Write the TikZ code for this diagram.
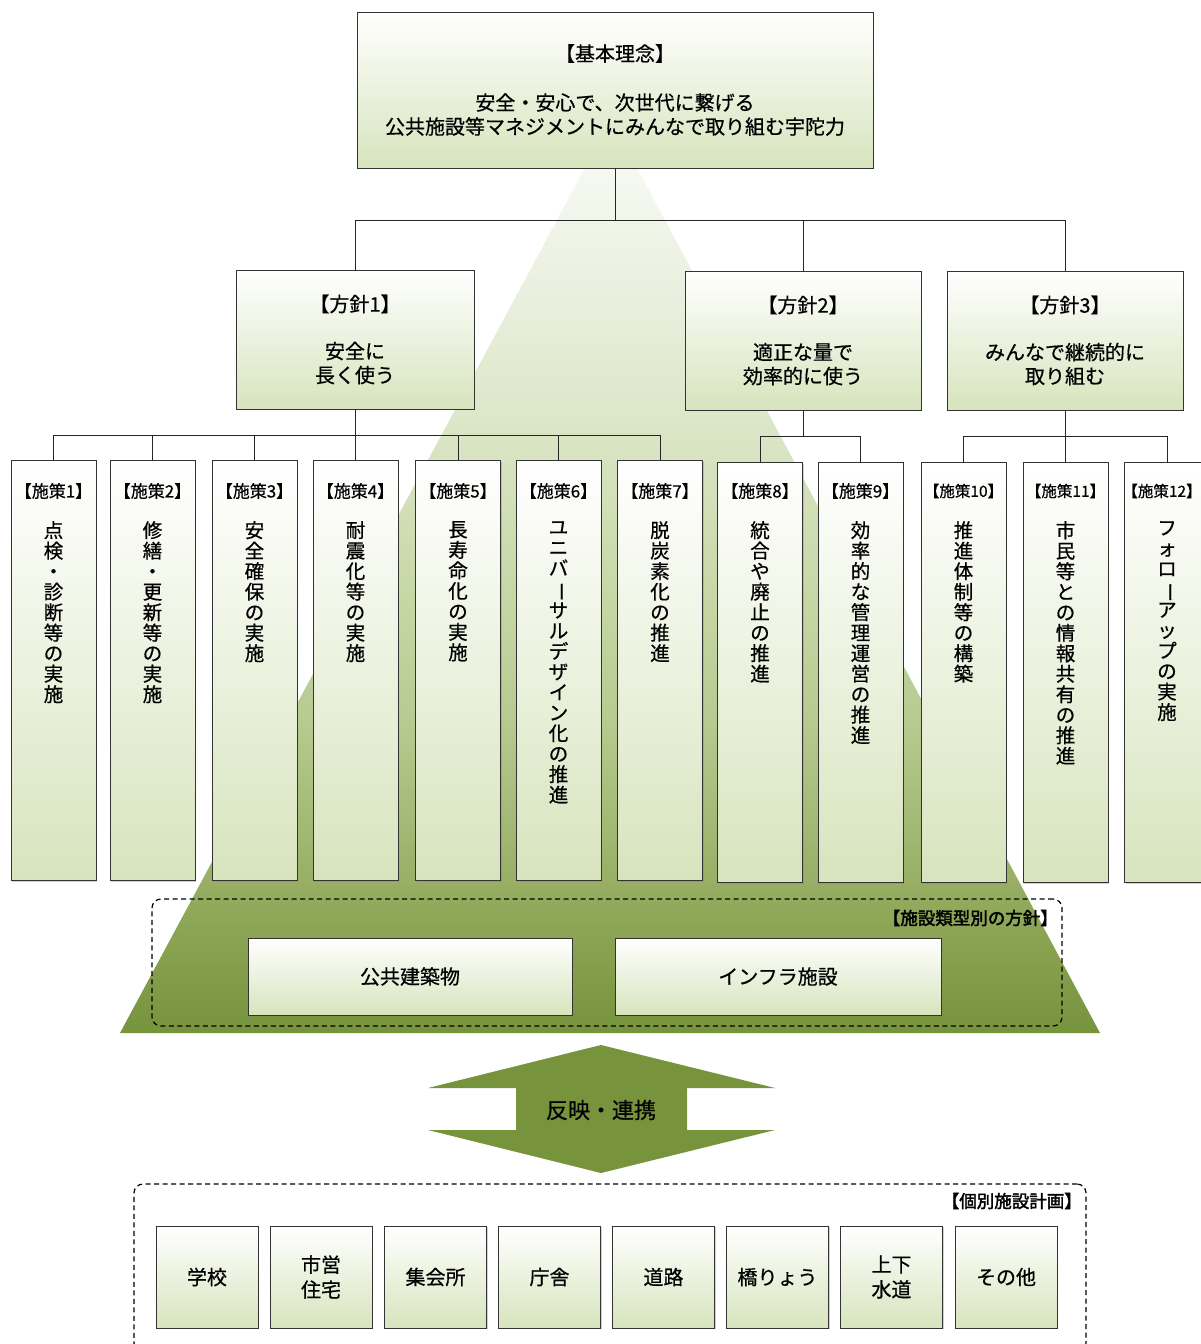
\documentclass[tikz,border=0pt]{standalone}
\usepackage{fontspec}
\setmainfont{Noto Sans CJK JP}[RawFeature={embolden=0.6}]
\newfontfamily\jpbold[RawFeature={embolden=2.2}]{Noto Sans CJK JP}
\usepackage{graphicx}
\usetikzlibrary{shadows}
\definecolor{oliveG}{HTML}{77933C}
\definecolor{boxG}{HTML}{D7E4BD}
\definecolor{tA}{HTML}{91AA5C}
\definecolor{tB}{HTML}{98AF66}
\definecolor{tC}{HTML}{B7CA91}
\definecolor{tD}{HTML}{C6D7A5}
\definecolor{tE}{HTML}{DCE6C8}
\definecolor{tF}{HTML}{E9EFDD}
\definecolor{tG}{HTML}{F6F9F1}
\pgfdeclareverticalshading{trishade}{100bp}{color(0bp)=(oliveG); color(25bp)=(oliveG); color(32.7bp)=(tA); color(33.8bp)=(tB); color(43.1bp)=(tC); color(50bp)=(tD); color(60.3bp)=(tE); color(67.4bp)=(tF); color(75bp)=(tG); color(100bp)=(tG)}
\newcommand\vbar{\rotatebox[origin=c]{-90}{ー}}
\newcommand\skbox[7]{%
  \node[box, minimum width=85, minimum height=420, anchor=north] (#1) at (#2,#3) {};
  \node[lab, font=\fontsize{#4}{#4}\selectfont] (#1l) at (#7,491) {#5};
  \node[vt] (#1t) at (#2,521) {#6};
}
\begin{document}
\begin{tikzpicture}[x=1pt,y=-1pt,
  box/.style={draw=black!80, line width=0.9pt, top color=white, bottom color=boxG,
    drop shadow={shadow xshift=1.2pt, shadow yshift=-1.2pt, opacity=0.35}},
  conn/.style={draw=black!85, line width=1pt},
  main/.style={align=center, font=\fontsize{20}{24}\selectfont, inner sep=0},
  lab/.style={inner sep=0},
  vt/.style={align=center, anchor=north, inner sep=0, font=\fontsize{19.5}{20.5}\selectfont},
  dbox/.style={draw=black, line width=1.2pt, dash pattern=on 5pt off 3.5pt, rounded corners=9pt},
  blab/.style={anchor=east, inner sep=0, font=\fontsize{17.5}{20}\selectfont\jpbold},
  sbox/.style={box, minimum width=102, minimum height=102, align=center, font=\fontsize{20}{25}\selectfont}
]
\useasboundingbox (0,0) rectangle (1201,1344);
\fill[white] (0,0) rectangle (1201,1344);

% background trapezoid
\shade[shading=trishade] (585,168) -- (637,168) -- (1100,1033) -- (120,1033) -- cycle;

% top box
\node[box, minimum width=516, minimum height=156, main] (top) at (615,90)
  {【基本理念】\\[25pt]安全・安心で、次世代に繋げる\\公共施設等マネジメントにみんなで取り組む宇陀力};

% policy boxes
\node[box, minimum width=238, minimum height=139, main] (h1) at (355,339.5) {【方針1】\\[23pt]安全に\\長く使う};
\node[box, minimum width=236, minimum height=139, main] (h2) at (803,340.5) {【方針2】\\[23pt]適正な量で\\効率的に使う};
\node[box, minimum width=236, minimum height=139, main] (h3) at (1065,340.5) {【方針3】\\[23pt]みんなで継続的に\\取り組む};

% measures
\skbox{s1}{53.5}{460}{17}{【施策1】}{点\\検\\・\\診\\断\\等\\の\\実\\施}{53.5}
\skbox{s2}{152.5}{460}{17}{【施策2】}{修\\繕\\・\\更\\新\\等\\の\\実\\施}{152.5}
\skbox{s3}{254.5}{460}{17}{【施策3】}{安\\全\\確\\保\\の\\実\\施}{254.5}
\skbox{s4}{355.5}{460}{17}{【施策4】}{耐\\震\\化\\等\\の\\実\\施}{355.5}
\skbox{s5}{458}{460}{17}{【施策5】}{長\\寿\\命\\化\\の\\実\\施}{458}
\skbox{s6}{558.5}{460}{17}{【施策6】}{ユ\\ニ\\バ\\\vbar\\サ\\ル\\デ\\ザ\\イ\\ン\\化\\の\\推\\進}{558.5}
\skbox{s7}{660}{460}{17}{【施策7】}{脱\\炭\\素\\化\\の\\推\\進}{660}
\skbox{s8}{760}{462}{17}{【施策8】}{統\\合\\や\\廃\\止\\の\\推\\進}{760}
\skbox{s9}{860.5}{462}{17}{【施策9】}{効\\率\\的\\な\\管\\理\\運\\営\\の\\推\\進}{860.5}
\skbox{s10}{963.5}{462}{15.5}{【施策10】}{推\\進\\体\\制\\等\\の\\構\\築}{963.5}
\skbox{s11}{1065.5}{462}{15.5}{【施策11】}{市\\民\\等\\と\\の\\情\\報\\共\\有\\の\\推\\進}{1065.5}
\skbox{s12}{1167}{462}{15.5}{【施策12】}{フ\\ォ\\ロ\\\vbar\\ア\\ッ\\プ\\の\\実\\施}{1162}

% tree connectors
\coordinate (bus0) at (615,220);
\coordinate (bus1) at (355,435);
\coordinate (bus2) at (803,436);
\coordinate (bus3) at (1065,436);
\draw[conn] (top.south) -- (bus0) -| (h1.north);
\draw[conn] (bus0) -| (h2.north);
\draw[conn] (bus0) -| (h3.north);
\draw[conn] (h1.south) -- (bus1);
\foreach \s in {s1,s2,s3,s4,s5,s6,s7} \draw[conn] (bus1) -| (\s.north);
\draw[conn] (h2.south) -- (bus2);
\foreach \s in {s8,s9} \draw[conn] (bus2) -| (\s.north);
\draw[conn] (h3.south) -- (bus3);
\foreach \s in {s10,s11,s12} \draw[conn] (bus3) -| (\s.north);

% facility-type policy
\node[dbox, minimum width=910, minimum height=127] (ftype) at (607,962.5) {};
\node[blab] (ftypel) at (1058,918) {【施設類型別の方針】};
\node[box, minimum width=324, minimum height=77, main] (pb) at (410,976.5) {公共建築物};
\node[box, minimum width=326, minimum height=77, main] (inf) at (778,976.5) {インフラ施設};

% double arrow
\fill[oliveG] (601,1045) -- (775,1088) -- (687,1088) -- (687,1130) -- (775,1130) -- (601,1173)
  -- (428,1130) -- (516,1130) -- (516,1088) -- (428,1088) -- cycle;
\node[inner sep=0, font=\fontsize{22}{24}\selectfont] (refl) at (601,1110) {反映・連携};

% individual plans
\node[dbox, minimum width=952, minimum height=168] (indiv) at (610,1268) {};
\node[blab] (indivl) at (1082,1201) {【個別施設計画】};
\node[sbox] (b1) at (207,1277) {学校};
\node[sbox] (b2) at (321,1277) {市営\\住宅};
\node[sbox] (b3) at (435.5,1277) {集会所};
\node[sbox] (b4) at (549.5,1277) {庁舎};
\node[sbox] (b5) at (663.5,1277) {道路};
\node[sbox] (b6) at (777.5,1277) {橋りょう};
\node[sbox] (b7) at (891.5,1277) {上下\\水道};
\node[sbox] (b8) at (1006,1277) {その他};
\end{tikzpicture}
\end{document}
